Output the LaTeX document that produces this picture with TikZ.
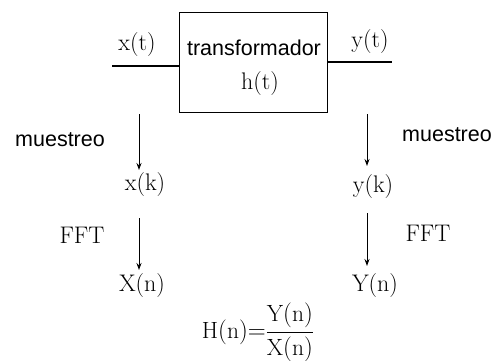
\documentclass[tikz,border=0pt]{standalone}
\usepackage{fontspec}
\newfontfamily\labsans{Liberation Sans}
\usetikzlibrary{arrows.meta}
\begin{document}
\begin{tikzpicture}[x=1pt,y=-1pt,
  sig/.style={font=\fontsize{24}{28}\selectfont, inner sep=0pt},
  word/.style={font=\labsans\fontsize{21.5}{25}\selectfont, inner sep=0pt},
  wire/.style={line width=1.1pt},
  arr/.style={line width=1pt,-{Stealth[length=7pt,width=5pt]}}]
\useasboundingbox (0,0) rectangle (495,360);
\node[draw, line width=1.4pt, minimum width=148pt, minimum height=100pt, inner sep=0pt] (box) at (253.5,62.5) {};
\node[word] (tr) at (254,48) {transformador};
\node[sig] (h) at (260,84) {h(t)};
\coordinate (in) at (112,66);
\coordinate (out) at (392,62);
\draw[wire] (in) -- (in -| box.west);
\draw[wire] (out -| box.east) -- (out);
\node[sig] (xt) at (137,45) {x(t)};
\node[sig] (yt) at (370,42) {y(t)};
\coordinate (a1) at (139,114);
\coordinate (b1) at (367,114);
\node[sig] (xk) at (145,185) {x(k)};
\node[sig] (yk) at (373,187) {y(k)};
\node[word] (m1) at (60,140) {muestreo};
\node[word] (m2) at (447,135) {muestreo};
\draw[arr] (a1) -- (139,170) coordinate (a1e);
\draw[arr] (b1) -- (367,166) coordinate (b1e);
\coordinate (a2) at (139,218);
\coordinate (b2) at (367,213);
\draw[arr] (a2) -- (139,270);
\draw[arr] (b2) -- (367,266);
\node[sig] (f1) at (82,235) {FFT};
\node[sig] (f2) at (428,233) {FFT};
\node[sig] (Xn) at (142,286) {X(n)};
\node[sig] (Yn) at (375,286) {Y(n)};
\node[inner sep=0pt, font=\fontsize{23.5}{28}\selectfont] (H) at (258,332) {$\displaystyle \mathrm{H(n)}{=}\frac{\mathrm{Y(n)}}{\mathrm{X(n)}}$};
\end{tikzpicture}
\end{document}
